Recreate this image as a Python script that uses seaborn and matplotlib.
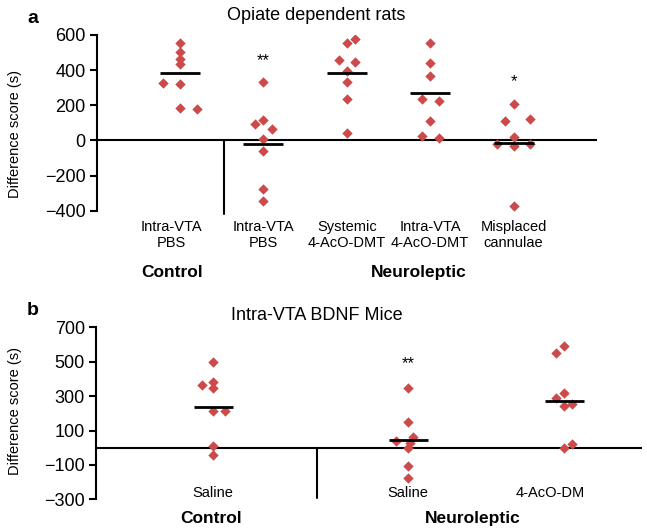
import numpy as np
import pandas as pd
import matplotlib
matplotlib.use("Agg")
import matplotlib.pyplot as plt
import matplotlib.transforms as mtransforms
import seaborn as sns


# ── Data ─────────────────────────────────────────────────────────────────────
A_TITLE = "Opiate dependent rats"
A_LABELS = ["Intra-VTA\nPBS", "Intra-VTA\nPBS", "Systemic\n4-AcO-DMT",
            "Intra-VTA\n4-AcO-DMT", "Misplaced\ncannulae"]
A_VALUES = [
    [557, 504, 466, 434, 325, 321, 182, 180],
    [330, 119, 92, 66, 9, -62, -278, -346],
    [576, 553, 457, 444, 397, 334, 236, 41],
    [557, 440, 364, 236, 223, 108, 27, 13],
    [208, 123, 108, 19, -23, -23, -34, -374],
]
A_MEANS = [381, -23, 381, 270, -13]
A_STARS = ["", "**", "", "", "*"]
A_STAR_Y = [0, 453, 0, 0, 336]

B_TITLE = "Intra-VTA BDNF Mice"
B_LABELS = ["Saline", "Saline", "4-AcO-DM"]
B_VALUES = [
    [498, 384, 363, 345, 213, 213, 10, -44],
    [345, 147, 62, 39, 25, -4, -106, -179],
    [591, 552, 320, 287, 256, 241, 20, 0],
]
B_MEANS = [238, 47, 272]
B_STARS = ["", "**", ""]
B_STAR_Y = [0, 488, 0]

GROUPS = ["Control", "Neuroleptic"]
A_TICKS = [-400, -200, 0, 200, 400, 600]
B_TICKS = [-300, -100, 100, 300, 500, 700]

# ── Layout (swarm shifts, column positions) ──────────────────────────────────
A_SHIFT = [
    [0, 0, 0, 0, -0.2, 0, 0, 0.2],
    [0, 0, -0.1, 0.1, 0, 0, 0, 0],
    [0.1, 0, -0.1, 0.1, 0, 0, 0, 0],
    [0, 0, 0, -0.1, 0.1, 0, -0.1, 0.1],
    [0, 0.2, -0.1, 0, -0.2, 0.2, 0, 0],
]
B_SHIFT = [
    [0, 0, -0.14, 0, 0, 0.16, 0, 0],
    [0, 0, 0.06, -0.15, 0.02, 0, 0, 0],
    [0, -0.1, 0, -0.1, 0.1, 0, 0.1, 0],
]
A_POS = [0, 1, 2, 3, 4]
A_LABEL_X = [-0.1, 1, 2, 3, 4]
A_GROUP_X = [-0.1, 2.86]
B_POS = [1.5, 4.0, 6.0]
B_LABEL_X = [1.5, 4.0, 5.82]
B_GROUP_X = [1.47, 4.83]

RED = "#cc4a4a"
W, H = 647, 529


def _frame(values, shifts, pos):
    rows = []
    for i, (vals, sh) in enumerate(zip(values, shifts)):
        for v, s in zip(vals, sh):
            rows.append({"x": pos[i] + s, "value": v})
    return pd.DataFrame(rows)


def _style_axis(ax, ticks, ylim, xlim):
    ax.set_xlim(*xlim)
    ax.set_ylim(*ylim)
    ax.set_yticks(ticks)
    ax.set_xticks([])
    for side in ("top", "right", "bottom"):
        ax.spines[side].set_visible(False)
    ax.spines["left"].set_linewidth(1.5)
    ax.spines["left"].set_color("black")
    ax.tick_params(axis="y", left=True, length=5, width=1.5, direction="out",
                   labelsize=13, pad=3, colors="black")
    ax.set_xlabel("")
    ax.set_ylabel("Difference score (s)", fontsize=10.5, labelpad=4, color="black")
    ax.set_facecolor("white")


def draw_panel(ax, values, shifts, pos, means, stars, star_y, half=0.24):
    ax.axhline(0, color="black", lw=1.5, zorder=1)
    df = _frame(values, shifts, pos)
    sns.scatterplot(data=df, x="x", y="value", marker="D", color=RED,
                    s=28, linewidth=0, ax=ax, zorder=2)
    ax.hlines(means, [p - half for p in pos], [p + half for p in pos],
              color="black", lw=2, zorder=3)
    for p, t, y in zip(pos, stars, star_y):
        if t:
            ax.text(p, y, t, ha="center", va="center", fontsize=12, color="black")


sns.set_theme(style="white")
plt.rcParams["font.family"] = ["Liberation Sans", "DejaVu Sans"]
plt.rcParams["text.color"] = "black"
plt.rcParams["axes.labelcolor"] = "black"

fig = plt.figure(figsize=(W / 100, H / 100), dpi=100)

# ── Panel a ──────────────────────────────────────────────────────────────────
ax_a = fig.add_axes([96.7 / W, 1 - 210.7 / H, (597 - 96.7) / W, (210.7 - 35) / H])
draw_panel(ax_a, A_VALUES, A_SHIFT, A_POS, A_MEANS, A_STARS, A_STAR_Y)
_style_axis(ax_a, A_TICKS, (-400, 600), (-1, 5))
ax_a.plot([0.53, 0.53], [0, -420], color="black", lw=1.5, clip_on=False)
tr_a = mtransforms.blended_transform_factory(ax_a.transData, ax_a.transAxes)
for x, lab in zip(A_LABEL_X, A_LABELS):
    ax_a.text(x, -0.14, lab, transform=tr_a, ha="center", va="center",
              fontsize=10.5, linespacing=1.15, color="black")
for x, g in zip(A_GROUP_X, GROUPS):
    ax_a.text(x, -0.35, g, transform=tr_a, ha="center", va="center",
              fontsize=12.5, fontweight="bold", color="black")
ax_a.yaxis.set_label_coords(-(96.7 - 22) / (597 - 96.7), 1 - (134 - 35) / (210.7 - 35))

# ── Panel b ──────────────────────────────────────────────────────────────────
ax_b = fig.add_axes([96 / W, 1 - 499.3 / H, (642 - 96) / W, (499.3 - 327.3) / H])
draw_panel(ax_b, B_VALUES, B_SHIFT, B_POS, B_MEANS, B_STARS, B_STAR_Y, half=0.25)
_style_axis(ax_b, B_TICKS, (-300, 700), (0, 7))
ax_b.plot([2.83, 2.83], [0, -291], color="black", lw=1.5, clip_on=False)
tr_b = mtransforms.blended_transform_factory(ax_b.transData, ax_b.transAxes)
for x, lab in zip(B_LABEL_X, B_LABELS):
    ax_b.text(x, 0.038, lab, transform=tr_b, ha="center", va="center",
              fontsize=10.5, color="black")
for x, g in zip(B_GROUP_X, GROUPS):
    ax_b.text(x, -0.11, g, transform=tr_b, ha="center", va="center",
              fontsize=12.5, fontweight="bold", color="black")
ax_b.yaxis.set_label_coords(-(96 - 22) / (642 - 96), 1 - (411 - 327.3) / (499.3 - 327.3))

# ── Titles and panel letters ─────────────────────────────────────────────────
fig.text(316 / W, 1 - 20 / H, A_TITLE, ha="center", va="baseline", fontsize=13)
fig.text(317 / W, 1 - 320 / H, B_TITLE, ha="center", va="baseline", fontsize=13)
fig.text(33 / W, 1 - 23 / H, "a", ha="center", va="baseline", fontsize=14, fontweight="bold")
fig.text(33 / W, 1 - 315 / H, "b", ha="center", va="baseline", fontsize=14, fontweight="bold")

fig.savefig("out.png", dpi=100, facecolor="white")
